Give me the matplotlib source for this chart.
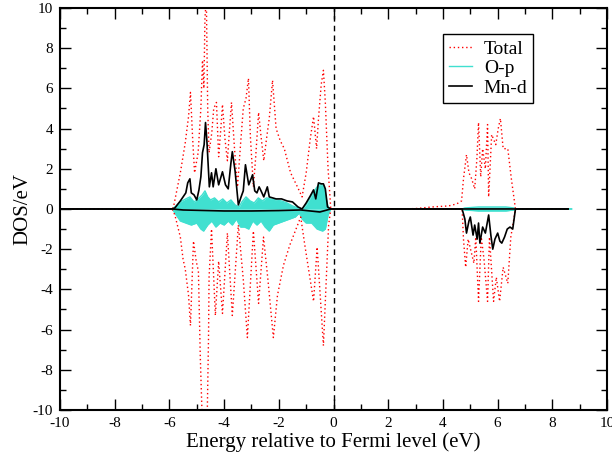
import matplotlib
matplotlib.use("Agg")
import matplotlib.pyplot as plt
from matplotlib.ticker import MultipleLocator

plt.rcParams['font.family'] = ['Liberation Serif', 'DejaVu Serif']
plt.rcParams['axes.unicode_minus'] = False

# Total DOS, spin up (eV, states/eV)
e_tot_up = [-10, -5.9, -5.85, -5.6, -5.42, -5.3, -5.23, -5.15, -5.08, -4.95, -4.85, -4.79,
            -4.74, -4.7, -4.65, -4.6, -4.55, -4.45, -4.38, -4.28, -4.2, -4.12, -4.06, -3.97,
            -3.88, -3.8, -3.73, -3.62, -3.51, -3.4, -3.3, -3.2, -3.11, -3.04, -2.93, -2.85,
            -2.74, -2.65, -2.55, -2.45, -2.35, -2.23, -2.1, -1.95, -1.8, -1.57, -1.32, -1.15,
            -1.0, -0.85, -0.73, -0.62, -0.55, -0.45, -0.37, -0.3, -0.2, -0.1,
            2.5, 3.0, 3.6, 4.2, 4.5, 4.68, 4.75, 4.86, 4.95, 5.05, 5.16, 5.24, 5.3, 5.38,
            5.45, 5.55, 5.63, 5.67, 5.78, 5.93, 6.02, 6.1, 6.2, 6.37, 6.5, 6.65, 8.6]
tot_up = [0, 0, 0.1, 1.8, 3.3, 4.6, 5.8, 3.5, 1.8, 2.8, 5.0, 7.4,
          6.0, 9.5, 10.5, 5.0, 2.8, 3.8, 5.0, 5.3, 2.6, 4.0, 5.2, 3.5,
          2.4, 4.0, 5.3, 3.0, 1.1, 3.2, 5.0, 5.5, 6.5, 3.6, 1.1, 2.5,
          4.8, 3.6, 2.4, 3.5, 4.5, 6.4, 4.0, 3.4, 3.0, 1.8, 1.1, 0.6,
          1.8, 3.5, 4.6, 3.0, 4.5, 6.2, 6.9, 5.3, 2.0, 0.0,
          0, 0.02, 0.1, 0.15, 0.25, 0.4, 1.5, 2.7, 1.8, 1.5, 1.0, 2.5, 4.3, 1.6,
          3.0, 2.0, 4.2, 0.6, 3.7, 3.2, 4.0, 4.5, 3.0, 3.0, 1.5, 0, 0]

# Total DOS, spin down
e_tot_dn = [-10, -5.9, -5.8, -5.6, -5.5, -5.42, -5.3, -5.23, -5.12, -5.02, -4.94, -4.87,
            -4.8, -4.62, -4.57, -4.55, -4.46, -4.32, -4.2, -4.06, -3.88, -3.7, -3.48, -3.3,
            -3.15, -2.93, -2.74, -2.56, -2.4, -2.2, -2.05, -1.83, -1.6, -1.2, -1.05, -0.73,
            -0.6, -0.37, -0.18, -0.1,
            4.7, 4.75, 4.83, 4.92, 5.13, 5.2, 5.3, 5.4, 5.5, 5.63, 5.7, 5.85, 5.95, 6.07,
            6.2, 6.37, 6.48, 6.65]
tot_dn = [0, 0, -0.3, -1.4, -2.5, -3.0, -4.3, -5.8, -1.6, -2.6, -3.1, -7.4,
          -10.5, -10.5, -6.4, -3.4, -1.0, -5.3, -2.6, -5.2, -1.2, -5.3, -0.8, -3.5,
          -6.4, -1.1, -4.7, -1.4, -3.5, -6.4, -4.3, -2.8, -1.8, -0.4, -1.8, -4.6,
          -1.9, -6.8, -0.8, 0,
          0, -1.5, -2.9, -1.5, -2.7, -1.4, -4.6, -1.4, -2.5, -4.6, -1.4, -4.6, -3.4, -4.6,
          -2.9, -3.7, -1.4, 0]

# O-p projected DOS, spin up
e_op_up = [-10, -5.9, -5.8, -5.6, -5.4, -5.25, -5.1, -4.95, -4.8, -4.7, -4.6, -4.5, -4.35,
           -4.2, -4.05, -3.9, -3.75, -3.6, -3.45, -3.35, -3.2, -3.05, -2.9, -2.75, -2.6,
           -2.45, -2.3, -2.1, -1.9, -1.7, -1.5, -1.3, -1.15, -1.0, -0.85, -0.73, -0.6,
           -0.55, -0.45, -0.35, -0.28, -0.2, -0.1,
           4.7, 4.8, 5.3, 5.6, 6.3, 6.6, 6.65, 8.7]
op_up = [0, 0, 0.1, 0.35, 0.5, 0.6, 0.35, 0.5, 0.7, 0.9, 0.6, 0.45, 0.55,
         0.35, 0.5, 0.3, 0.45, 0.2, 0.1, 0.35, 0.6, 0.4, 0.3, 0.55, 0.4,
         0.55, 0.5, 0.45, 0.4, 0.3, 0.15, 0.05, 0.0, 0.2, 0.55, 0.85, 1.1,
         1.2, 1.2, 1.15, 0.6, 0.1, 0,
         0, 0.05, 0.1, 0.1, 0.1, 0.05, 0, 0]

# O-p projected DOS, spin down
e_op_dn = [-10, -5.9, -5.8, -5.6, -5.4, -5.2, -5.0, -4.85, -4.75, -4.6, -4.45, -4.3, -4.15,
           -4.0, -3.85, -3.7, -3.55, -3.4, -3.25, -3.1, -2.95, -2.8, -2.65, -2.5, -2.35,
           -2.2, -2.0, -1.8, -1.6, -1.4, -1.25, -1.15, -1.0, -0.8, -0.6, -0.4, -0.3,
           -0.2, -0.1,
           4.7, 4.8, 5.3, 5.6, 6.3, 6.6, 6.65, 8.7]
op_dn = [0, 0, -0.2, -0.6, -0.7, -0.8, -0.7, -1.0, -1.1, -0.8, -0.6, -0.9, -0.7,
         -0.8, -0.6, -0.8, -0.5, -0.9, -0.9, -1.0, -0.6, -0.8, -0.6, -0.9, -1.1,
         -0.8, -0.7, -0.6, -0.5, -0.4, -0.2, -0.5, -0.7, -0.7, -1.0, -1.1, -1.0,
         -0.3, 0,
         0, -0.05, -0.1, -0.1, -0.1, -0.05, 0, 0]

# Mn-d projected DOS, spin up
e_mn_up = [-10, -5.9, -5.8, -5.6, -5.4, -5.33, -5.25, -5.2, -5.1, -5.0, -4.92, -4.85, -4.79,
           -4.73, -4.68, -4.63, -4.54, -4.46, -4.4, -4.3, -4.2, -4.06, -3.95, -3.85, -3.75,
           -3.7, -3.6, -3.48, -3.38, -3.3, -3.22, -3.1, -2.96, -2.88, -2.8, -2.72, -2.65,
           -2.55, -2.42, -2.35, -2.1, -1.9, -1.7, -1.5, -1.3, -1.15, -1.0, -0.85, -0.73,
           -0.65, -0.55, -0.45, -0.37, -0.3, -0.22, -0.1, 8.57]
mn_up = [0, 0, 0.05, 0.4, 0.8, 1.3, 1.5, 0.8, 0.7, 0.45, 0.95, 1.6, 2.8,
         3.2, 4.3, 3.4, 1.1, 1.8, 1.1, 2.0, 1.2, 1.85, 1.2, 1.0, 2.3,
         2.85, 1.9, 0.2, 0.6, 0.9, 2.2, 1.2, 1.7, 0.9, 0.8, 1.1, 0.9,
         0.6, 1.1, 0.6, 0.5, 0.5, 0.4, 0.35, 0.1, 0.0, 0.3, 0.65, 0.95,
         0.5, 1.3, 1.25, 1.25, 1.0, 0.1, 0, 0]

# Mn-d projected DOS, spin down
e_mn_dn = [-10, -5.9, -5.5, -4.0, -3.0, -2.0, -1.2, -0.5, -0.1,
           4.7, 4.8, 4.86, 4.95, 5.0, 5.1, 5.16, 5.25, 5.3, 5.35, 5.45, 5.55, 5.67, 5.75,
           5.82, 5.9, 6.0, 6.08, 6.15, 6.25, 6.35, 6.45, 6.55, 6.62, 6.65, 8.57]
mn_dn = [0, 0, -0.05, -0.1, -0.1, -0.08, -0.05, -0.15, 0,
         0, -0.5, -1.2, -0.6, -0.4, -1.3, -0.8, -1.5, -0.7, -1.7, -0.9, -1.2, -0.3, -1.3,
         -2.0, -1.5, -1.2, -1.6, -1.7, -1.4, -1.0, -0.9, -1.0, -0.3, 0, 0]

fig = plt.figure(figsize=(6.12, 4.57), dpi=100)
ax = fig.add_axes([0.098, 0.103, 0.894, 0.8795])

turq = '#40e0d0'
ax.fill_between(e_op_up, op_up, 0, color=turq, lw=0)
ax.fill_between(e_op_dn, op_dn, 0, color=turq, lw=0)
ax.plot(e_op_up, op_up, color=turq, lw=1, label='O-p')
ax.plot(e_op_dn, op_dn, color=turq, lw=1)

ax.plot(e_tot_up, tot_up, color='red', lw=1, ls=(0, (1, 2)), label='Total')
ax.plot(e_tot_dn, tot_dn, color='red', lw=1, ls=(0, (1, 2)))

ax.plot(e_mn_up, mn_up, color='black', lw=1.2, label='Mn-d')
ax.plot(e_mn_dn, mn_dn, color='black', lw=1.2)

ax.axvline(0, color='black', lw=1, ls=(0, (4, 3)))

ax.set_xlim(-10, 10)
ax.set_ylim(-10, 10)
ax.xaxis.set_major_locator(MultipleLocator(2))
ax.xaxis.set_minor_locator(MultipleLocator(1))
ax.yaxis.set_major_locator(MultipleLocator(2))
ax.yaxis.set_minor_locator(MultipleLocator(1))
ax.tick_params(which='both', direction='in', top=True, right=True, labelsize=11, width=1)
ax.tick_params(which='major', length=8, pad=5)
ax.tick_params(which='minor', length=4)
for s in ax.spines.values():
    s.set_linewidth(1.5)

ax.set_xlabel('Energy relative to Fermi level (eV)', fontsize=15, labelpad=2)
ax.set_ylabel('DOS/eV', fontsize=15, labelpad=0)

h, l = ax.get_legend_handles_labels()
order = [l.index('Total'), l.index('O-p'), l.index('Mn-d')]
leg = ax.legend([h[i] for i in order], [l[i] for i in order], loc='upper left',
                bbox_to_anchor=(0.70, 0.935), fontsize=14, frameon=True, fancybox=False,
                edgecolor='black', framealpha=1, handlelength=1.2, handletextpad=0.6,
                labelspacing=0.1, borderpad=0.3, borderaxespad=0)
leg.get_frame().set_linewidth(1)

fig.savefig('out.png', dpi=100)
